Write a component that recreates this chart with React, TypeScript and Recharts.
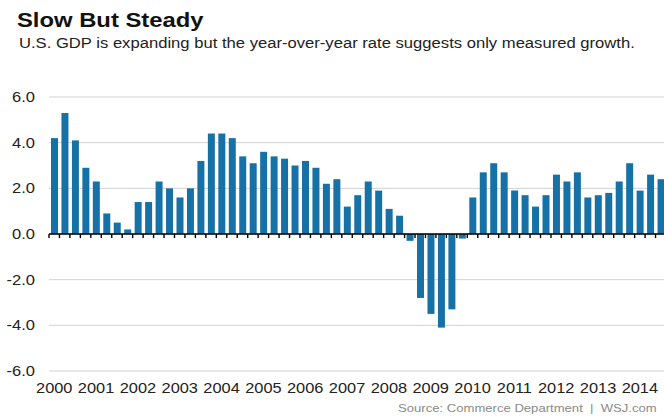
import { BarChart, Bar, XAxis, YAxis, CartesianGrid, ReferenceLine } from "recharts"

// 年ごとの四半期、前年比GDP成長率(%)
const years = ["2000", "2001", "2002", "2003", "2004", "2005", "2006", "2007", "2008", "2009", "2010", "2011", "2012", "2013", "2014"]
const quarterNames = ["Q1", "Q2", "Q3", "Q4"]
const growth = [
  4.2, 5.3, 4.1, 2.9,
  2.3, 0.9, 0.5, 0.2,
  1.4, 1.4, 2.3, 2.0,
  1.6, 2.0, 3.2, 4.4,
  4.4, 4.2, 3.4, 3.1,
  3.6, 3.4, 3.3, 3.0,
  3.2, 2.9, 2.2, 2.4,
  1.2, 1.7, 2.3, 1.9,
  1.1, 0.8, -0.3, -2.8,
  -3.5, -4.1, -3.3, -0.2,
  1.6, 2.7, 3.1, 2.7,
  1.9, 1.7, 1.2, 1.7,
  2.6, 2.3, 2.7, 1.6,
  1.7, 1.8, 2.3, 3.1,
  1.9, 2.6, 2.4,
]
const yTicks = [-6, -4, -2, 0, 2, 4, 6]

const quarters = years.flatMap((y) => quarterNames.map((q) => `${y} ${q}`)).slice(0, growth.length)
const chartData = growth.map((v, i) => ({ quarter: quarters[i], gdp: v }))

const FONT = '"Liberation Sans", Arial, Helvetica, sans-serif'
const BLUE = "#1672a6"

function YearTick({ x, y, payload }: any) {
  const [year, q] = String(payload.value).split(" ")
  if (q !== "Q1") return <g />
  return (
    <g transform={`translate(${x},${y})`}>
      <text transform="scale(1.17,1)" textAnchor="middle" dy="0.71em" fontSize={14} fill="#222" fontFamily={FONT}>
        {year}
      </text>
    </g>
  )
}

function ValueTick({ x, y, payload }: any) {
  return (
    <g transform={`translate(${x},${y})`}>
      <text transform="scale(1.18,1)" textAnchor="end" dy="0.355em" fontSize={14} fill="#222" fontFamily={FONT}>
        {Number(payload.value).toFixed(1)}
      </text>
    </g>
  )
}

export default function App() {
  return (
    <div style={{ position: "absolute", left: 0, top: 0, width: 664, height: 419, overflow: "hidden", background: "#fff", fontFamily: FONT }}>
      <BarChart width={700} height={419} data={chartData} margin={{ top: 97, right: 34, bottom: 18, left: 0 }} style={{ position: "absolute", left: 0, top: 0 }}>
        <CartesianGrid vertical={false} stroke="#d2d2d2" />
        <XAxis dataKey="quarter" interval={0} axisLine={false} tickLine={false} tickSize={0} tickMargin={12} height={30} tick={<YearTick />} />
        <YAxis type="number" domain={[-6, 6]} ticks={yTicks} width={49} axisLine={false} tickLine={false} tickSize={0} tickMargin={14} tick={<ValueTick />} />
        <Bar dataKey="gdp" fill={BLUE} barSize={7} isAnimationActive={false} />
        <ReferenceLine y={0} stroke="#000" strokeWidth={1.6} ifOverflow="visible" />
        {quarters.map((q) => (
          <ReferenceLine
            key={q}
            segment={[{ x: q, y: 0 }, { x: q, y: -0.18 }]}
            position="start"
            stroke="#000"
            strokeWidth={1.4}
            ifOverflow="visible"
          />
        ))}
      </BarChart>
      <div style={{ position: "absolute", left: 17, top: 10, fontSize: 20, lineHeight: "20px", fontWeight: "bold", color: "#111", transform: "scaleX(1.19)", transformOrigin: "left", whiteSpace: "nowrap" }}>
        Slow But Steady
      </div>
      <div style={{ position: "absolute", left: 19, top: 36, fontSize: 14, lineHeight: "14px", color: "#222", transform: "scaleX(1.187)", transformOrigin: "left", whiteSpace: "nowrap" }}>
        U.S. GDP is expanding but the year-over-year rate suggests only measured growth.
      </div>
      <div style={{ position: "absolute", left: 398, top: 403, fontSize: 11, lineHeight: "11px", color: "#8a8a8a", transform: "scaleX(1.19)", transformOrigin: "left", whiteSpace: "pre" }}>
        {"Source: Commerce Department  |  WSJ.com"}
      </div>
    </div>
  )
}
